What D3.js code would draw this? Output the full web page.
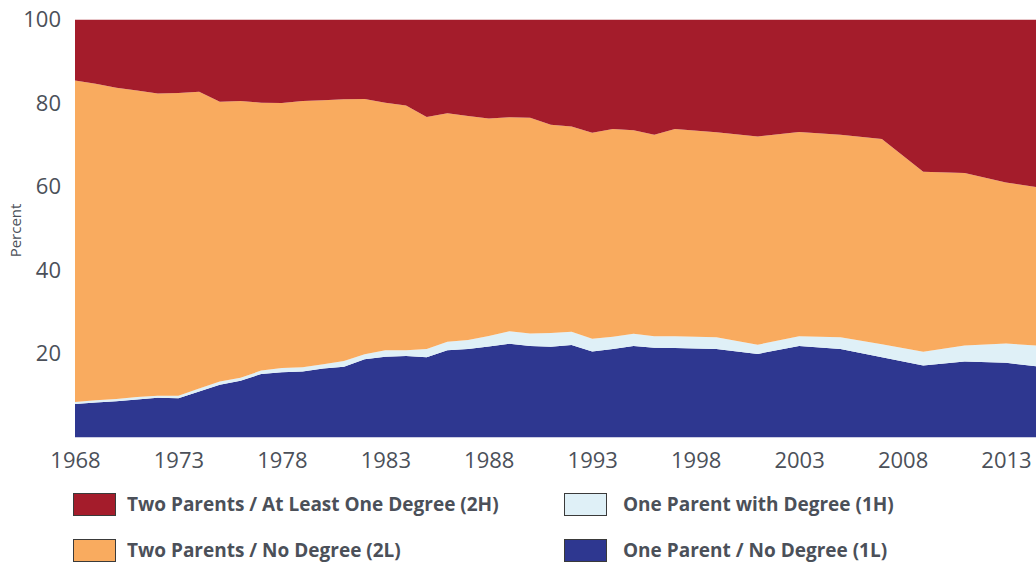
<!DOCTYPE html>
<html>
<head>
<meta charset="utf-8">
<script src="https://cdn.jsdelivr.net/npm/d3@7"></script>
<style>
  body { margin: 0; background: #fff; }
  svg { display: block; font-family: "Open Sans", sans-serif; }
</style>
</head>
<body>
<div id="chart"></div>
<script>
// PSID years: annual until 1997, then every two years
const years = [1968, 1969, 1970, 1971, 1972, 1973, 1974, 1975, 1976, 1977,
  1978, 1979, 1980, 1981, 1982, 1983, 1984, 1985, 1986, 1987,
  1988, 1989, 1990, 1991, 1992, 1993, 1994, 1995, 1996, 1997,
  1999, 2001, 2003, 2005, 2007, 2009, 2011, 2013, 2015];

// share of children (percent) per family type
const oneLow = [8.0, 8.4, 8.7, 9.1, 9.5, 9.4, 11.0, 12.6, 13.6, 15.2,
  15.6, 15.8, 16.5, 16.9, 18.7, 19.3, 19.5, 19.2, 20.9, 21.2,
  21.8, 22.4, 21.9, 21.7, 22.1, 20.6, 21.2, 21.9, 21.5, 21.4,
  21.2, 20.0, 21.9, 21.2, 19.2, 17.2, 18.2, 17.9, 16.7];
const oneHigh = [0.5, 0.5, 0.5, 0.6, 0.5, 0.6, 0.7, 0.8, 0.7, 0.8,
  1.0, 1.0, 1.0, 1.4, 1.2, 1.6, 1.4, 2.0, 2.0, 2.1,
  2.5, 3.0, 3.0, 3.3, 3.2, 3.0, 2.9, 2.9, 2.7, 2.8,
  2.8, 2.2, 2.3, 2.8, 3.1, 3.3, 3.8, 4.6, 5.1];
const twoLow = [76.9, 75.7, 74.5, 73.3, 72.3, 72.4, 71.0, 66.9, 66.2, 64.1,
  63.4, 63.7, 63.2, 62.6, 61.1, 59.2, 58.5, 55.5, 54.7, 53.6,
  52.0, 51.2, 51.6, 49.8, 49.1, 49.3, 49.7, 48.7, 48.2, 49.6,
  49.0, 49.8, 48.9, 48.4, 49.1, 43.1, 41.3, 38.5, 37.7];
const twoHigh = [14.6, 15.4, 16.3, 17.0, 17.7, 17.6, 17.3, 19.7, 19.5, 19.9,
  20.0, 19.5, 19.3, 19.1, 19.0, 19.9, 20.6, 23.3, 22.4, 23.1,
  23.7, 23.4, 23.5, 25.2, 25.6, 27.1, 26.2, 26.5, 27.6, 26.2,
  27.0, 28.0, 26.9, 27.6, 28.6, 36.4, 36.7, 39.0, 40.5];

const xTicks = [1968, 1973, 1978, 1983, 1988, 1993, 1998, 2003, 2008, 2013];
const yTicks = [20, 40, 60, 80, 100];

const keys = ["1L", "1H", "2L", "2H"];
const colors = { "1L": "#2e3790", "1H": "#dff0f7", "2L": "#f9ab5f", "2H": "#a41c2b" };
const labels = {
  "2H": "Two Parents / At Least One Degree (2H)",
  "1H": "One Parent with Degree (1H)",
  "2L": "Two Parents / No Degree (2L)",
  "1L": "One Parent / No Degree (1L)"
};

const width = 1036, height = 562;
const plot = { left: 75, right: 1036, top: 19.5, bottom: 437.5 };
const textColor = "#4b5059";

const rows = years.map((y, i) => ({
  year: y, "1L": oneLow[i], "1H": oneHigh[i], "2L": twoLow[i], "2H": twoHigh[i]
}));

const svg = d3.select("#chart").append("svg")
  .attr("width", width)
  .attr("height", height);

// 1968 sits on the left edge, the last survey year runs past the right edge
const x = d3.scaleLinear().domain([1968, 2013]).range([plot.left, 1006]);
const y = d3.scaleLinear().domain([0, 100]).range([plot.bottom, plot.top]);

svg.append("clipPath").attr("id", "plot-clip")
  .append("rect")
  .attr("x", plot.left)
  .attr("y", plot.top)
  .attr("width", plot.right - plot.left)
  .attr("height", plot.bottom - plot.top);

const series = d3.stack().keys(keys)(rows);

const area = d3.area()
  .x(d => x(d.data.year))
  .y0(d => y(d[0]))
  .y1(d => y(d[1]));

svg.append("g")
  .attr("clip-path", "url(#plot-clip)")
  .selectAll("path")
  .data(series)
  .join("path")
  .attr("d", area)
  .attr("fill", d => colors[d.key]);

// y axis
const yAxis = svg.append("g")
  .attr("transform", `translate(${plot.left},0)`)
  .call(d3.axisLeft(y).tickValues(yTicks).tickSize(0).tickPadding(14));
yAxis.select(".domain").remove();
yAxis.selectAll("text")
  .style("font-family", "'Open Sans', sans-serif")
  .style("font-size", "22px")
  .attr("fill", textColor);

svg.append("text")
  .attr("transform", `translate(21,${(plot.top + plot.bottom) / 2 + 2}) rotate(-90)`)
  .attr("text-anchor", "middle")
  .style("font-size", "15px")
  .attr("fill", textColor)
  .text("Percent");

// x axis
const xAxis = svg.append("g")
  .attr("transform", `translate(0,${plot.bottom})`)
  .call(d3.axisBottom(x).tickValues(xTicks).tickFormat(d3.format("d")).tickSize(0).tickPadding(15));
xAxis.select(".domain").remove();
xAxis.selectAll("text")
  .style("font-family", "'Open Sans', sans-serif")
  .style("font-size", "22px")
  .attr("fill", textColor);

// legend, two columns
const legendItems = [
  { key: "2H", col: 0, row: 0 },
  { key: "1H", col: 1, row: 0 },
  { key: "2L", col: 0, row: 1 },
  { key: "1L", col: 1, row: 1 }
];
const colX = [73, 564];
const textX = [54, 59];
const rowY = [493, 539];

const legend = svg.append("g")
  .selectAll("g")
  .data(legendItems)
  .join("g")
  .attr("transform", d => `translate(${colX[d.col]},${rowY[d.row]})`);

legend.append("rect")
  .attr("x", 0.5)
  .attr("y", 0.5)
  .attr("width", 42)
  .attr("height", 22)
  .attr("fill", d => colors[d.key])
  .attr("stroke", "#3a3a3a")
  .attr("stroke-width", 1);

legend.append("text")
  .attr("x", d => textX[d.col])
  .attr("y", 18)
  .style("font-size", "19px")
  .style("font-weight", "700")
  .attr("fill", textColor)
  .text(d => labels[d.key]);
</script>
</body>
</html>
